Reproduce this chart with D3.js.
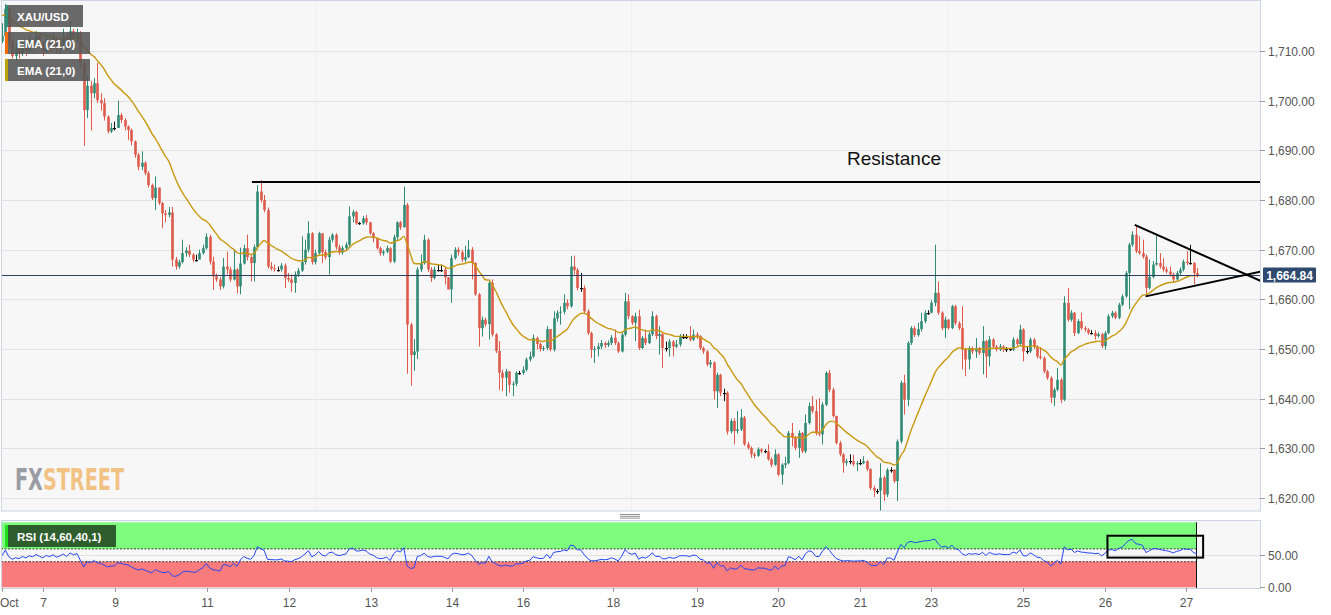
<!DOCTYPE html>
<html><head><meta charset="utf-8">
<script src="https://cdn.jsdelivr.net/npm/d3@7"></script>
<style>body{margin:0;background:#fff;} svg{display:block;font-family:"Liberation Sans",Arial,sans-serif;}</style>
</head><body><svg id="c" width="1331" height="615"></svg>
<script>
// ---------- DATA (hourly XAU/USD) ----------
const firstOpen = 1712;
const closes = [
1713,1718.5,1712,1709,1710.5,1709.5,1711.5,1710,1712,1711,1713,1711.5,1710,1712,1711,1712.5,1710.5,1711.5,1713,1711,1714,1712.5,1713.6,1707.6,1698.1,
1703,1701.5,1703.5,1700.1,1699.5,1696.8,1693.8,1694.5,1694.5,1697.1,1696.1,1694.8,1694.1,1691.8,1689.1,1686.7,1687.5,1685.4,1683,1680.4,1682.5,1679.4,1677.3,1677,1677.5,
1668,1666.6,1667.5,1669.3,1669.8,1669,1668,1668,1669.3,1670.3,1672.6,1667.6,1664.6,1664,1662.6,1666.6,1666,1664,1666,1662.6,1667.2,1670.3,1668.5,1667.3,1670.5,
1681.7,1680,1678,1666.6,1666.2,1666,1666,1666.8,1664.3,1664,1663.3,1665,1665.8,1667.5,1670,1673.3,1667.5,1669.3,1673.3,1669.5,1668.5,1672,1673,1670.5,1669.4,
1670.3,1671,1676.7,1677.6,1675.3,1675.3,1676.3,1675.5,1673.3,1672.3,1670.3,1669.3,1669.6,1670.3,1667.6,1672.5,1675.5,1674.5,1679,1654.9,1648.8,1649.5,1666,1667.3,1672,
1666,1664.3,1666,1666,1666,1664.4,1662,1668.3,1670,1669.5,1668,1668.5,1670,1667.3,1661,1654.2,1655.9,1655,1663.3,1652.9,1649.6,1645.2,1644.2,1645.5,1642.8,
1643,1645.2,1645.2,1645.8,1647.9,1648.5,1652.2,1651,1650,1650.2,1654,1649.9,1656.2,1657.3,1657.5,1659.3,1658.6,1666.6,1665.9,1662.3,1662.3,1657.6,1653.2,1649.9,1650,
1650.5,1651.2,1650.8,1651.2,1652.3,1651.2,1649.5,1652.9,1659.6,1656.6,1655.3,1656.6,1650.2,1652.2,1651.2,1653,1656.6,1652.6,1653,1650.2,1650.2,1651.5,1650.5,1650.9,1652.5,
1652.5,1652.5,1651.9,1652.9,1652.6,1650.2,1649.5,1646.9,1647.3,1641.5,1644.8,1641.2,1641.2,1633.4,1635.5,1633.5,1633.8,1636.2,1630.8,1630.1,1628.8,1628.5,1629.8,1629.4,1629.4,
1627.8,1626.7,1628.8,1624.7,1626.7,1627,1633.1,1632.1,1630.1,1633.1,1629.4,1635.1,1638.5,1637.5,1633,1632.8,1638.8,1645.2,1641.8,1636.5,1631.1,1628.8,1627.1,1627.4,1627.4,
1626.8,1627,1627,1627.4,1625.8,1622,1621.5,1621.5,1624.1,1620.7,1625.7,1625.7,1623.4,1631.4,1643.2,1639.8,1651.2,1654.2,1652.8,1654,1655.6,1657.3,1657.3,1659.3,1661.3,
1657.3,1654.2,1655.9,1654.2,1658.6,1655.2,1654.2,1649.9,1647.9,1650.2,1649.5,1650.2,1649.2,1651.6,1648.5,1651.9,1650.5,1649.9,1650.5,1649.9,1649.9,1649.9,1651.9,1651,1653.9,
1649.5,1649.5,1651.9,1650.5,1648.5,1648.2,1645.5,1644.2,1640.2,1641.8,1643.8,1639.8,1659.3,1655.9,1657.3,1653.2,1655.6,1654.2,1653.9,1653.2,1653.2,1652.6,1653,1650.6,1653.2,
1656.6,1657.3,1656.3,1658.9,1660.6,1665.3,1671,1673,1669.7,1669.3,1668.6,1662.3,1664.5,1667,1667.3,1666.6,1666,1665.6,1665,1664,1665.3,1666,1667.6,1667.3,1667.3,
1665.3,1664.84];
const highs = [
1715.6,1719.5,1718.5,1712.5,1711.5,1711,1712.5,1712,1713,1712.5,1714,1713.5,1712,1713,1712.5,1713.5,1713,1712.5,1714.5,1713.5,1716,1714.5,1714.5,1714,1708,
1705,1704,1704.5,1707.6,1701.5,1700.5,1697,1695.5,1695.8,1700,1697.5,1696.5,1695,1694.4,1692,1689.5,1689.8,1687.8,1685.8,1683.3,1684.7,1682.5,1679.6,1678,1678.6,
1678.6,1668.5,1668,1672,1670.5,1671,1669.3,1669,1670,1671,1673.3,1673,1668.6,1665.2,1664.5,1668.3,1669.6,1666.5,1670,1666.3,1670.4,1671,1673,1669,1671,
1683,1684,1681,1678.5,1667.5,1667,1666.6,1667.3,1667.2,1665.3,1665,1665.6,1666.3,1672.7,1672,1675.7,1673.5,1670,1673.6,1671.8,1670,1672.6,1673.3,1673.3,1671,
1670.8,1671.5,1678.7,1678,1677.8,1675.6,1676.8,1677,1675.6,1673.6,1672.5,1670.6,1670,1670.8,1670.5,1673,1675.7,1675.8,1682.7,1679.4,1655.3,1652,1666.5,1669,1673,
1672.3,1666.5,1666.6,1667,1667,1666.5,1664.5,1669,1670.5,1670.5,1670,1670.8,1671.9,1670.5,1667.5,1661.3,1656.5,1656.3,1664,1664,1653.2,1651.6,1645.8,1646,1645.6,
1643.5,1645.5,1645.6,1646.5,1648.3,1649.5,1652.9,1652.5,1651.3,1650.6,1654.6,1654,1657.6,1657.8,1658.6,1661,1660,1668.7,1668.8,1666.3,1665.3,1662.8,1658,1653.5,1650.6,
1651.2,1651.8,1651.5,1651.7,1652.8,1653.9,1651.5,1653.3,1661.3,1661,1656.8,1657.3,1657.9,1652.6,1653.9,1653.5,1657.6,1656.9,1654.6,1653.3,1651.5,1652,1651.8,1651.8,1653,
1653,1653,1654.6,1653.9,1653.4,1652.8,1650.5,1649.8,1647.8,1647.5,1645.2,1645,1642,1641.5,1636,1636.1,1637.5,1637.9,1636.5,1631.3,1630.4,1629.2,1630.2,1630,1629.8,
1630.8,1628.2,1629.8,1629,1627,1628.3,1633.5,1635.1,1632.5,1633.6,1633.3,1636.8,1639.2,1640.5,1639.8,1640.1,1639.3,1645.5,1645.8,1642.2,1636.6,1631.5,1629,1627.9,1628.8,
1628.7,1627.5,1627.8,1628.4,1627.6,1626,1622.5,1621.8,1627,1624.5,1626,1626.2,1625.8,1631.8,1643.6,1644.8,1651.6,1654.6,1654.6,1655.3,1657.3,1657.8,1657.8,1659.8,1671,
1663.6,1657.6,1656.5,1656,1658.9,1658.9,1655.6,1658.6,1650.2,1650.6,1650.5,1652.2,1650.4,1654.6,1651.8,1652.6,1652.2,1650.8,1651,1650.8,1650.4,1650.2,1652.4,1652.2,1654.9,
1654.2,1650.5,1652.3,1652.2,1650.8,1650.4,1648.5,1645.8,1644.5,1642.2,1646.2,1644.2,1660.6,1662.3,1657.8,1657.5,1656,1657.3,1654.6,1654.2,1653.8,1653.8,1653.4,1653.2,1653.6,
1657,1657.7,1657.6,1659.3,1661,1665.7,1671.4,1673.7,1675,1672.7,1672,1669,1668,1667.7,1673,1669.3,1668.3,1666.5,1666.6,1665.4,1665.7,1666.4,1668,1669.7,1671,
1667.5,1666.3];
const lows = [
1711.6,1712.5,1711,1708.5,1708,1708.5,1709,1709,1709.5,1710,1710.5,1710.5,1709,1709.5,1710,1710.5,1709.5,1709.5,1711,1710,1710.5,1711.5,1711.5,1706.5,1690.9,
1696.5,1694,1700.5,1699.5,1698,1696,1693.4,1693.5,1694,1695,1695.5,1694,1692.1,1691,1688.5,1686,1686,1685,1682.5,1680,1678,1679,1674.3,1675.5,1676.5,
1666.6,1666,1666.2,1667.2,1668.6,1668.5,1667.5,1667.6,1668.5,1669,1670,1667,1661.9,1663.5,1661.9,1662.2,1665,1663.5,1663.8,1661.2,1661,1667,1667.8,1663.6,1663.6,
1670,1679.5,1677.5,1666.2,1665.8,1665.6,1665.6,1665.6,1662.3,1663.5,1661.5,1661.3,1664.5,1665.5,1667,1669.5,1667,1667,1669,1667.3,1668,1665,1671.5,1670,1669,
1669,1669.8,1670.5,1675.5,1675,1675,1675,1675,1673,1671.5,1670,1668.8,1668.8,1669.3,1667.3,1667.3,1672,1674,1674.5,1645,1642.6,1645.6,1648,1665.5,1667,
1665.5,1663.5,1664,1665.6,1665.5,1663,1662,1659.3,1668,1668.8,1667.5,1667.5,1668.3,1664,1660.7,1650.5,1652.5,1654.5,1651.9,1652.5,1649.2,1641.8,1641.5,1640.5,1641.2,
1640.5,1642.5,1644.8,1644.8,1645.5,1647.5,1648.2,1649.9,1649.5,1649.6,1649.8,1649.5,1649.5,1655.5,1654.9,1657,1658,1658.3,1665,1661.8,1661.5,1657,1652.8,1648.2,1647.2,
1648.5,1650,1650.2,1650.4,1650.8,1650.8,1649.2,1649.3,1652.5,1656,1654.8,1651.6,1649.8,1650,1650.8,1651,1652.6,1652,1648.9,1646.2,1649.5,1648.5,1648.5,1650.2,1650.5,
1652,1652,1651.5,1651.6,1652,1649.8,1649,1646.5,1646.2,1639.8,1638.1,1640.5,1639.5,1632.8,1633,1630.8,1633,1633.5,1630.5,1629.7,1628.1,1628,1628.3,1629,1629,
1627.5,1626.2,1626.5,1624.4,1622.7,1626,1626.8,1630.4,1629.6,1628.1,1629,1629,1634.8,1637,1632.6,1632.4,1630.8,1638.5,1641.3,1636.2,1630.8,1628.4,1625.1,1626.5,1626.8,
1626.4,1625.4,1626.6,1626.8,1625.4,1621.6,1620.2,1620.8,1617.4,1619.4,1620.2,1625.1,1623,1619.4,1631,1636.8,1638.5,1650.8,1652.4,1652.5,1653.5,1655.2,1656.9,1657.2,1658.6,
1656.9,1653.8,1652.2,1653.9,1654,1654.8,1653.8,1645.9,1644.5,1645.9,1649,1648.2,1648.8,1644.9,1644.2,1646.5,1650.1,1649.5,1649.6,1649.4,1649.4,1649.6,1649.6,1650.6,1650.8,
1647.5,1649,1649.2,1650,1648.1,1647.9,1645.1,1643.8,1639.1,1638.5,1641.5,1639.1,1639.5,1655.5,1655.5,1652.6,1653,1653.8,1653.5,1652.9,1652.9,1651.9,1652.3,1650.2,1649.9,
1653,1656.2,1656,1656,1658.6,1660.3,1658,1670.6,1669.3,1669,1668.2,1661,1662,1664.2,1666.8,1666.2,1665.6,1665.2,1664.6,1663.6,1663.8,1664.9,1665.6,1666.9,1667,
1663,1664.4];

const emaSeed = 1717.6;          // EMA value at the left edge
const emaPeriod = 21;
const rsiPeriod = 14;
const rsiSeedGain = 1.0, rsiSeedLoss = 1.1;
const priceTicks = [1620,1630,1640,1650,1660,1670,1680,1690,1700,1710];
const rsiTicks = [0,50];
const rsiUpper = 60, rsiLower = 40;
const dayLabels = ["Oct","7","9","11","12","13","14","16","18","19","20","21","23","25","26","27"];
const dayIdx = [0,12,33.2,60.2,84.3,108.4,132.2,153,179.4,204.1,227.9,252,272.8,299.9,323.9,347.7];
const lastPrice = 1664.84;
const resistanceLevel = 1683.6, resistanceFrom = 73.4;
const triUpper = [[332.7,1675.0],[369.7,1663.7]];
const triLower = [[335.9,1660.6],[369.7,1665.6]];
const rsiBoxIdx = [324.7,352.8], rsiBoxVal = [80.6,46.4];

// ---------- LAYOUT ----------
const svg = d3.select("#c");
const L = 1, R = 1260, T = 1, B = 511;
const RT = 520, RB = 588;
const x = d3.scaleLinear().domain([0, 351]).range([2, 1197]);
const y = d3.scaleLinear().domain([1620, 1710]).range([498, 51]);
const yr = d3.scaleLinear().domain([0, 100]).range([587.3, 523.3]);
const GREEN = "#2f8b74", RED = "#de5a4b", BORDER = "#cdd5e4";

const defs = svg.append("defs");
defs.append("clipPath").attr("id","mainClip").append("rect").attr("x",L).attr("y",T).attr("width",R-L).attr("height",B-T);
defs.append("clipPath").attr("id","rsiClip").append("rect").attr("x",L).attr("y",RT).attr("width",R-L).attr("height",RB-RT);
const lg = defs.append("linearGradient").attr("id","logoGrad").attr("gradientUnits","userSpaceOnUse")
  .attr("x1",15).attr("x2",124).attr("y1",0).attr("y2",0);
lg.append("stop").attr("offset",0).attr("stop-color","#9a9ca3");
lg.append("stop").attr("offset",0.245).attr("stop-color","#9a9ca3");
lg.append("stop").attr("offset",0.245).attr("stop-color","#f2c285");
lg.append("stop").attr("offset",1).attr("stop-color","#f2c285");

// backgrounds
svg.append("rect").attr("x",L).attr("y",T).attr("width",R-L).attr("height",B-T).attr("fill","#f7f7f7");
svg.append("rect").attr("x",L).attr("y",RT).attr("width",R-L).attr("height",RB-RT).attr("fill","#f7f7f7");

// grid main
const gMain = svg.append("g").attr("clip-path","url(#mainClip)");
gMain.selectAll("line.grid").data(priceTicks).join("line")
  .attr("x1",L).attr("x2",R).attr("y1",d=>Math.round(y(d))+0.5).attr("y2",d=>Math.round(y(d))+0.5)
  .attr("stroke","#e2e2e2").attr("stroke-width",1);
gMain.selectAll("line.vgrid").data([316,631,947]).join("line")
  .attr("x1",d=>d+0.5).attr("x2",d=>d+0.5).attr("y1",T).attr("y2",B)
  .attr("stroke","#eeeeee").attr("stroke-width",1);

// logo: one text, two-tone fill
svg.append("text").attr("x",15).attr("y",490)
  .attr("font-family","'DejaVu Sans Condensed','DejaVu Sans',sans-serif").attr("font-weight","bold")
  .attr("font-size",30).attr("textLength",109).attr("lengthAdjust","spacingAndGlyphs")
  .attr("fill","url(#logoGrad)").text("FXSTREET");

// EMA
const ema = [];
{ const a = 2/(emaPeriod+1); let e = emaSeed;
  closes.forEach((c,i)=>{ e = e + a*(c-e); ema.push(e); }); }

// candles
const candles = closes.map((c,i)=>({i, o: i===0?firstOpen:closes[i-1], c, h: highs[i], l: lows[i]}));
const cg = gMain.append("g");
candles.forEach(d=>{
  const col = d.c>d.o ? GREEN : (d.c<d.o ? RED : "#111");
  const xc = Math.round(x(d.i));
  cg.append("line").attr("x1",xc+0.5).attr("x2",xc+0.5).attr("y1",y(d.h)).attr("y2",y(d.l))
    .attr("stroke",col).attr("stroke-width",1);
  if (d.c===d.o) {
    cg.append("rect").attr("x",xc-1).attr("width",3).attr("y",Math.round(y(d.c))).attr("height",1.2).attr("fill","#111");
  } else {
    const y1 = y(Math.max(d.o,d.c)), y2 = y(Math.min(d.o,d.c));
    cg.append("rect").attr("x",xc-0.8).attr("width",2.6).attr("y",y1).attr("height",Math.max(1,y2-y1)).attr("fill",col);
  }
});

gMain.append("path").datum(ema)
  .attr("d", d3.line().x((d,i)=>x(i)).y(d=>y(d)).curve(d3.curveMonotoneX))
  .attr("fill","none").attr("stroke","#c8980f").attr("stroke-width",1.4);

// last price line
gMain.append("line").attr("x1",L).attr("x2",R).attr("y1",Math.round(y(lastPrice))+0.5).attr("y2",Math.round(y(lastPrice))+0.5)
  .attr("stroke","#2c3f63").attr("stroke-width",1);

// drawings
gMain.append("line").attr("x1",x(resistanceFrom)).attr("x2",R).attr("y1",y(resistanceLevel)).attr("y2",y(resistanceLevel))
  .attr("stroke","#000").attr("stroke-width",2);
[triUpper, triLower].forEach(t=>{
  gMain.append("line").attr("x1",x(t[0][0])).attr("y1",y(t[0][1])).attr("x2",x(t[1][0])).attr("y2",y(t[1][1]))
    .attr("stroke","#000").attr("stroke-width",2);
});
svg.append("text").attr("x",847).attr("y",165).attr("font-size",19).attr("fill","#111").text("Resistance");

// legend boxes
const legends = [
  {t:"XAU/USD", y:5, w:78, strip:"#2f8b74"},
  {t:"EMA (21,0)", y:32, w:85, strip:"#f06a00"},
  {t:"EMA (21,0)", y:59, w:85, strip:"#b9a100"}
];
legends.forEach(l=>{
  svg.append("rect").attr("x",5).attr("y",l.y).attr("width",l.w).attr("height",22).attr("fill","#555").attr("opacity",0.88);
  svg.append("rect").attr("x",5).attr("y",l.y).attr("width",3).attr("height",22).attr("fill",l.strip);
  svg.append("text").attr("x",17).attr("y",l.y+15.5).attr("font-size",11.5).attr("font-weight","bold").attr("fill","#fff").text(l.t);
});

// borders main
svg.append("rect").attr("x",L+0.5).attr("y",T-0.5).attr("width",R-L).attr("height",B-T+0.5)
  .attr("fill","none").attr("stroke",BORDER).attr("stroke-width",1);

// right price axis
const ya = svg.append("g");
priceTicks.forEach(p=>{
  const yy = Math.round(y(p))+0.5;
  ya.append("line").attr("x1",R).attr("x2",R+5).attr("y1",yy).attr("y2",yy).attr("stroke","#999");
  ya.append("text").attr("x",R+8).attr("y",yy+4).attr("font-size",12).attr("fill","#555").text(d3.format(",.2f")(p));
});
svg.append("rect").attr("x",1263).attr("y",Math.round(y(lastPrice))-7.5).attr("width",53).attr("height",15).attr("rx",1).attr("fill","#2f4a6f");
svg.append("text").attr("x",1289.5).attr("y",Math.round(y(lastPrice))+4.5).attr("text-anchor","middle")
  .attr("font-size",12).attr("font-weight","bold").attr("fill","#fff").text(d3.format(",.2f")(lastPrice));

// pane handle
[514.5,516.3,518.1].forEach(hy=>svg.append("line").attr("x1",620).attr("x2",640).attr("y1",hy).attr("y2",hy).attr("stroke","#888").attr("stroke-width",0.9));

// ---------- RSI ----------
const rsi = [];
{ let ag = rsiSeedGain, al = rsiSeedLoss, prev = firstOpen;
  closes.forEach(c=>{ const ch = c-prev; prev = c;
    ag = (ag*(rsiPeriod-1) + Math.max(ch,0))/rsiPeriod;
    al = (al*(rsiPeriod-1) + Math.max(-ch,0))/rsiPeriod;
    rsi.push(al===0?100:100-100/(1+ag/al)); }); }
const gR = svg.append("g").attr("clip-path","url(#rsiClip)");
gR.append("line").attr("x1",L).attr("x2",R).attr("y1",Math.round(yr(50))+0.5).attr("y2",Math.round(yr(50))+0.5).attr("stroke","#e0e0e0");
const zoneEnd = 1196;
gR.append("rect").attr("x",L).attr("y",yr(100)-1).attr("width",zoneEnd-L).attr("height",yr(rsiUpper)-yr(100)+1).attr("fill","#7efc7e");
gR.append("rect").attr("x",L).attr("y",yr(rsiLower)).attr("width",zoneEnd-L).attr("height",yr(0)-yr(rsiLower)).attr("fill","#fa7b7b");
[rsiUpper, rsiLower].forEach(v=>gR.append("line").attr("x1",L).attr("x2",zoneEnd).attr("y1",yr(v)).attr("y2",yr(v))
  .attr("stroke","#111").attr("stroke-width",0.8).attr("stroke-dasharray","2,1.5"));
gR.append("line").attr("x1",zoneEnd+0.5).attr("x2",zoneEnd+0.5).attr("y1",yr(100)-1).attr("y2",RB).attr("stroke","#111");
gR.append("line").attr("x1",L+0.5).attr("x2",L+0.5).attr("y1",yr(100)-1).attr("y2",RB).attr("stroke","#111");
gR.append("path").datum(rsi).attr("d", d3.line().x((d,i)=>x(i)).y(d=>yr(d)))
  .attr("fill","none").attr("stroke","#2346f5").attr("stroke-width",1);
gR.append("rect").attr("x",x(rsiBoxIdx[0])).attr("y",yr(rsiBoxVal[0])).attr("width",x(rsiBoxIdx[1])-x(rsiBoxIdx[0]))
  .attr("height",yr(rsiBoxVal[1])-yr(rsiBoxVal[0])).attr("fill","none").attr("stroke","#000").attr("stroke-width",2);
svg.append("rect").attr("x",L+0.5).attr("y",RT+0.5).attr("width",R-L).attr("height",RB-RT).attr("fill","none").attr("stroke",BORDER);

// RSI label
svg.append("rect").attr("x",5).attr("y",525).attr("width",111).attr("height",22).attr("fill","#2e5e2e");
svg.append("rect").attr("x",5).attr("y",525).attr("width",3).attr("height",22).attr("fill","#1fe01f");
svg.append("text").attr("x",17).attr("y",540.5).attr("font-size",11.5).attr("font-weight","bold").attr("fill","#fff").text("RSI (14,60,40,1)");

// RSI axis
rsiTicks.forEach(v=>{
  const yy = Math.round(yr(v))+0.5;
  svg.append("line").attr("x1",R).attr("x2",R+5).attr("y1",yy).attr("y2",yy).attr("stroke","#999");
  svg.append("text").attr("x",R+8).attr("y",yy+4).attr("font-size",12).attr("fill","#555").text(d3.format(".2f")(v));
});

// x axis
dayIdx.forEach((di,k)=>{
  const xx = Math.round(x(di))+0.5;
  svg.append("line").attr("x1",xx).attr("x2",xx).attr("y1",RB).attr("y2",RB+4).attr("stroke","#999");
  svg.append("text").attr("x",k===0?0:xx).attr("y",607).attr("text-anchor",k===0?"start":"middle")
    .attr("font-size",12).attr("fill","#555").text(dayLabels[k]);
});
</script></body></html>
